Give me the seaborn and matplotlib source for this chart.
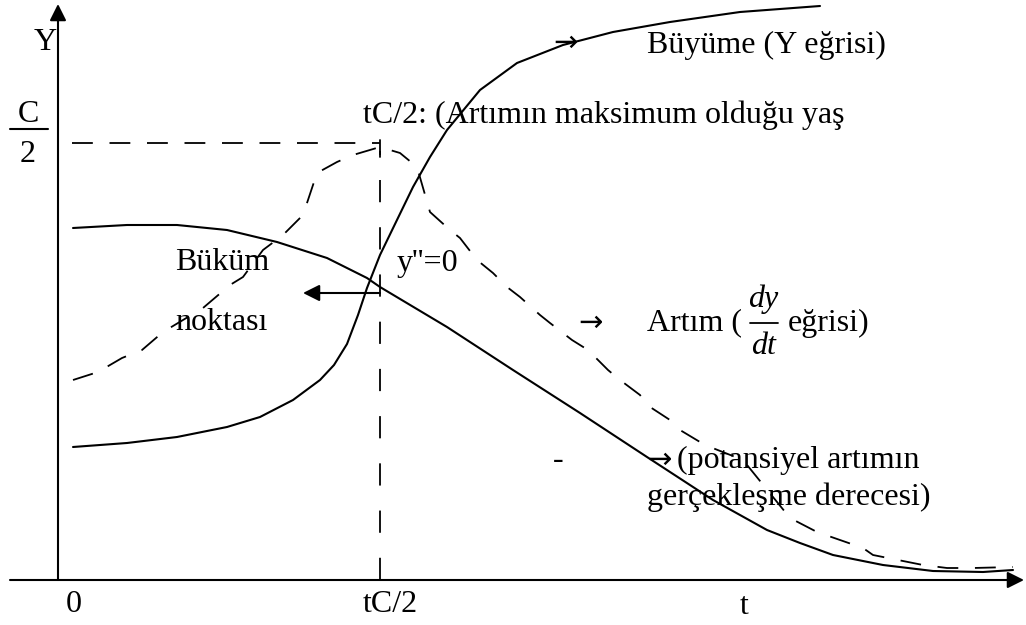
import seaborn as sns
import matplotlib.pyplot as plt
import numpy as np
import pandas as pd

# Büyüme (Y eğrisi) - resimden okunan noktalar (t, y)
buyume_t = [15, 69, 119, 169, 202, 235, 262, 276, 289, 300, 309, 322, 338, 355, 372, 389, 422,
            459, 505, 555, 612, 682, 762]
buyume_y = [133, 137, 143, 153, 163, 180, 200, 215, 236, 265, 292, 325, 358, 393, 423, 450, 490,
            517, 535, 548, 558, 568, 574]

# Potansiyel artımın gerçekleşme derecesi
potansiyel_t = [15, 69, 119, 169, 219, 269, 309, 322, 389, 455, 522, 589, 655, 709, 742, 775,
                825, 875, 925, 955]
potansiyel_y = [352, 355, 355, 350, 338, 322, 302, 293, 253, 210, 167, 123, 80, 50, 37, 25,
                15, 9, 8, 10]

# Artım (dy/dt eğrisi) - kesikli
artim_t = [15, 40, 64, 84, 105, 120, 145, 172, 185, 205, 225, 245, 259, 279, 295, 322, 342, 359,
           372, 392, 402, 419, 435, 449, 462, 482, 492, 514, 530, 550, 562, 582, 589, 612, 622,
           647, 685, 732, 759, 782, 805, 815, 865, 889, 915, 955]
artim_y = [200, 208, 222, 230, 248, 257, 272, 295, 303, 330, 345, 365, 407, 418, 425, 433, 427,
           413, 368, 350, 342, 320, 307, 293, 283, 265, 257, 240, 230, 210, 200, 185, 175, 160,
           150, 135, 120, 62, 48, 40, 32, 25, 15, 12, 12, 13]

tc2 = 322     # tC/2
c2 = 437      # C/2

sns.set_style("white")
plt.rcParams['font.family'] = ['Liberation Serif', 'DejaVu Serif']
plt.rcParams['text.color'] = 'black'
plt.rcParams['lines.scale_dashes'] = False

fig = plt.figure(figsize=(10.26, 6.25), dpi=100)
ax = fig.add_axes([0, 0, 1, 1])
ax.set_xlim(-58, 968)
ax.set_ylim(-45, 580)
ax.axis("off")

buyume = pd.DataFrame({"t": buyume_t, "y": buyume_y})
potansiyel = pd.DataFrame({"t": potansiyel_t, "y": potansiyel_y})
artim = pd.DataFrame({"t": artim_t, "y": artim_y})

sns.lineplot(data=buyume, x="t", y="y", sort=False, estimator=None, color="black", lw=1.5, ax=ax)
sns.lineplot(data=potansiyel, x="t", y="y", sort=False, estimator=None, color="black", lw=1.5, ax=ax)
sns.lineplot(data=artim, x="t", y="y", sort=False, estimator=None, color="black", lw=1.3, ax=ax)
ax.lines[-1].set_dashes((15, 12))
for ln in ax.lines:
    ln.set_solid_joinstyle("round")
    ln.set_dash_joinstyle("round")

# kesikli yardımcı çizgiler
ax.plot([14, tc2], [c2, c2], color="black", lw=1.3, dashes=(15, 12))
ax.plot([tc2, tc2], [0, c2 - 8], color="black", lw=1.3, dashes=(16, 18))
ax.plot([tc2, tc2], [c2 + 3, c2 - 14], color="black", lw=1.3)

# eksenler
ok = dict(arrowstyle="-|>,head_length=1.0,head_width=0.5", color="black", lw=1.5,
          mutation_scale=10, shrinkA=0, shrinkB=0)
ax.annotate("", xy=(0, 576), xytext=(0, 0), arrowprops=ok)
ax.annotate("", xy=(966, 0), xytext=(-48, 0), arrowprops=ok)

# büküm noktası oku
ax.annotate("", xy=(245, 287), xytext=(tc2, 287), arrowprops=ok)

fs = 23
ok_font = ['DejaVu Sans']
ax.text(-13, 538, "Y", fontsize=fs, ha="center", va="center")
ax.text(-30, 466, "C", fontsize=fs, ha="center", va="center")
ax.plot([-48, -10], [451, 451], color="black", lw=1.5)
ax.text(-30, 426, "2", fontsize=fs, ha="center", va="center")

ax.text(305, 465, "tC/2: (Artımın maksimum olduğu yaş", fontsize=fs, ha="left", va="center")
ax.text(495, 537, "→", fontsize=fs - 2, ha="left", va="center", family=ok_font)
ax.text(589, 535, "Büyüme (Y eğrisi)", fontsize=fs, ha="left", va="center")
ax.text(117, 317, "Büküm", fontsize=fs, ha="left", va="center")
ax.text(117, 257, "noktası", fontsize=fs, ha="left", va="center")
ax.text(339, 316, "y''=0", fontsize=fs, ha="left", va="center")

ax.text(520, 257, "→", fontsize=fs - 2, ha="left", va="center", family=ok_font)
ax.text(589, 257, "Artım (", fontsize=fs, ha="left", va="center")
ax.text(705, 281, "dy", fontsize=fs, ha="center", va="center", style="italic")
ax.plot([692, 720], [257, 257], color="black", lw=1.3)
ax.text(705, 233, "dt", fontsize=fs, ha="center", va="center", style="italic")
ax.text(730, 257, "eğrisi)", fontsize=fs, ha="left", va="center")

ax.text(500, 120, "-", fontsize=fs, ha="center", va="center")
ax.text(589, 120, "→", fontsize=fs - 2, ha="left", va="center", family=ok_font)
ax.text(619, 120, "(potansiyel artımın", fontsize=fs, ha="left", va="center")
ax.text(589, 83, "gerçekleşme derecesi)", fontsize=fs, ha="left", va="center")

ax.text(16, -25, "0", fontsize=fs, ha="center", va="center")
ax.text(332, -25, "tC/2", fontsize=fs, ha="center", va="center")
ax.text(686, -27, "t", fontsize=fs, ha="center", va="center")

plt.savefig("out.png", dpi=100)
